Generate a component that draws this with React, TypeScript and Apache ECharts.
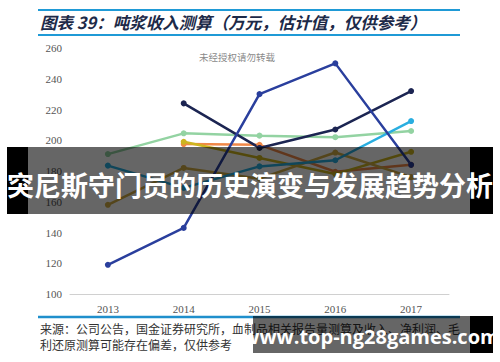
import React, { useEffect, useRef } from "react";
import * as echarts from "echarts";

const years = ["2013", "2014", "2015", "2016", "2017"];
const seriesNames = ["A", "B", "C", "D", "E", "F", "G"];
const royalBlue = [119, 143, 230, 250, 184];
const darkNavy = [null, 224, 195, 207, 232];
const lightGreen = [191, 204.5, 203, 202, 206];
const orange = [null, 197.5, 197, 179.5, 184];
const teal = [183.5, 169, 183, 187, 212.5];
const gold = [158, 182, 175, 192, 176];
const olive = [null, 199, 188.5, 178, 192.5];
const colors = ["#2a3f9d", "#1c2552", "#93d3a2", "#f08848", "#2aaee0", "#d2ad45", "#cdb520"];

const titleText = "图表 39：吨浆收入测算（万元，估计值，仅供参考）";
const sourceLine1 = "来源：公司公告，国金证券研究所，血制品相关报告量测算及收入、净利润、毛";
const sourceLine2 = "利还原测算可能存在偏差，仅供参考";
const watermark = "未经授权请勿转载";
const bannerText = "突尼斯守门员的历史演变与发展趋势分析";
const siteText = "www.top-ng28games.com";

export default function App() {
  const ref = useRef<HTMLDivElement>(null);
  useEffect(() => {
    if (!ref.current) return;
    const chart = echarts.init(ref.current, null, { renderer: "svg" });
    const datas = [royalBlue, darkNavy, lightGreen, orange, teal, gold, olive];
    const order = [2, 3, 6, 5, 4, 1, 0];
    chart.setOption({
      animation: false,
      backgroundColor: "#ffffff",
      grid: { left: 70, right: 51, top: 48, bottom: 68 },
      xAxis: {
        type: "category",
        data: years,
        boundaryGap: true,
        axisLine: { lineStyle: { color: "#d0d0d0", width: 1 } },
        axisTick: { show: false },
        axisLabel: { color: "#555", fontFamily: "Liberation Serif", fontSize: 11, margin: 9 },
      },
      yAxis: {
        type: "value",
        min: 100,
        max: 260,
        interval: 20,
        axisLine: { show: false },
        axisTick: { show: false },
        splitLine: { show: false },
        axisLabel: { color: "#555", fontFamily: "Liberation Serif", fontSize: 11, margin: 8 },
      },
      series: order.map((i) => ({
        name: seriesNames[i],
        type: "line",
        data: datas[i],
        symbol: "circle",
        symbolSize: 6,
        connectNulls: false,
        lineStyle: { width: 2.5, color: colors[i] },
        itemStyle: { color: colors[i] },
      })),
      graphic: [
        { type: "line", shape: { x1: 38, y1: 10, x2: 460, y2: 10 }, style: { stroke: "#1f9ad6", lineWidth: 2 } },
        { type: "line", shape: { x1: 38, y1: 35, x2: 460, y2: 35 }, style: { stroke: "#1f9ad6", lineWidth: 2 } },
        {
          type: "text", x: 40, y: 22,
          style: { text: titleText, fill: "#1d2a48", font: "italic bold 16.5px 'Noto Sans CJK SC'", textVerticalAlign: "middle" },
        },
        {
          type: "text", x: 237, y: 57,
          style: { text: watermark, fill: "#8a8a8a", font: "9.5px 'Noto Sans CJK SC'", textAlign: "center", textVerticalAlign: "middle" },
        },
        { type: "line", shape: { x1: 38, y1: 317, x2: 460, y2: 317 }, style: { stroke: "#1f8fcc", lineWidth: 2.5 } },
        {
          type: "text", x: 40, y: 328,
          style: { text: sourceLine1, fill: "#333", font: "12px 'Noto Sans CJK SC'", textVerticalAlign: "middle" },
        },
        {
          type: "text", x: 40, y: 344,
          style: { text: sourceLine2, fill: "#333", font: "12px 'Noto Sans CJK SC'", textVerticalAlign: "middle" },
        },
        { type: "rect", z: 100, shape: { x: 7, y: 147, width: 21, height: 67 }, style: { fill: "#000" } },
        { type: "rect", z: 100, shape: { x: 28, y: 147, width: 442, height: 67 }, style: { fill: "rgba(0,0,0,0.6)" } },
        { type: "rect", z: 100, shape: { x: 470, y: 147, width: 23, height: 67 }, style: { fill: "#000" } },
        {
          type: "text", z: 101, x: 250, y: 184,
          style: { text: bannerText, fill: "#fff", font: "bold 27px 'Noto Sans CJK SC'", textAlign: "center", textVerticalAlign: "middle" },
        },
        { type: "rect", z: 100, shape: { x: 253, y: 316, width: 217, height: 37 }, style: { fill: "rgba(0,0,0,0.6)" } },
        { type: "rect", z: 100, shape: { x: 470, y: 316, width: 23, height: 37 }, style: { fill: "#000" } },
        {
          type: "text", z: 101, x: 371, y: 336,
          style: { text: siteText, fill: "#fff", font: "bold 20px 'Open Sans'", textAlign: "center", textVerticalAlign: "middle" },
        },
      ],
    });
    return () => chart.dispose();
  }, []);
  return (
    <div
      ref={ref}
      style={{ position: "fixed", left: 0, top: 0, width: 500, height: 362 }}
    />
  );
}
